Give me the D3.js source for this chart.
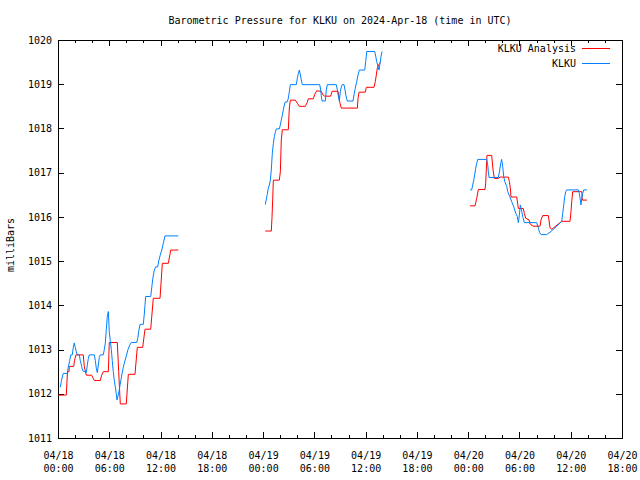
<!DOCTYPE html>
<html><head><meta charset="utf-8">
<script src="https://cdn.jsdelivr.net/npm/d3@7"></script>
<style>
body{margin:0;background:#fff;}
text{font-family:"DejaVu Sans Mono",monospace;font-size:10px;fill:#000;}
</style></head>
<body><svg id="c" width="640" height="480"></svg>
<script>
// Hours since 2024-04-18 00:00 UTC; null separates data gaps
const analysisHours = [0.04,0.97,1.11,1.29,1.32,1.84,1.93,2.1,2.96,3.08,3.31,3.94,4.25,4.95,5.11,5.3,5.89,6.0,6.94,7.1,7.29,7.99,8.23,9.01,9.28,9.91,10.18,10.85,11.15,11.94,12.21,12.91,13.19,14.08,
 null,
 24.26,24.96,25.04,25.13,25.2,25.9,26.02,26.13,26.25,26.95,27.07,27.19,27.77,28.0,28.24,28.94,29.17,29.29,29.88,30.04,30.27,30.81,31.0,31.21,31.91,32.07,32.77,33.0,33.15,35.03,35.11,35.23,35.96,36.08,36.98,37.13,37.25,37.37,37.53,37.76,
 null,
 48.22,48.8,49.0,49.19,49.97,50.05,50.2,50.75,50.91,51.06,51.53,51.73,52.7,52.82,52.93,53.01,53.68,53.87,54.45,54.57,54.73,55.12,55.24,55.62,56.41,56.52,56.72,57.38,57.58,57.78,58.95,59.92,60.03,60.12,60.23,61.29,61.36,61.9];
const analysisValues = [1011.97,1011.97,1012.5,1012.5,1012.62,1012.62,1012.75,1012.88,1012.88,1012.61,1012.42,1012.42,1012.3,1012.3,1012.42,1012.5,1012.5,1013.16,1013.16,1012.5,1011.77,1011.77,1012.44,1012.44,1013.05,1013.05,1013.46,1013.46,1014.16,1014.16,1014.95,1014.95,1015.25,1015.25,
 null,
 1015.68,1015.68,1015.97,1016.42,1016.83,1016.83,1017.02,1017.74,1017.97,1017.97,1018.46,1018.64,1018.64,1018.57,1018.5,1018.5,1018.59,1018.67,1018.67,1018.77,1018.85,1018.84,1018.76,1018.73,1018.73,1018.84,1018.84,1018.57,1018.46,1018.46,1018.68,1018.82,1018.82,1018.93,1018.93,1019.06,1019.21,1019.37,1019.44,1019.5,
 null,
 1016.25,1016.25,1016.42,1016.62,1016.62,1016.76,1017.39,1017.39,1017.06,1016.87,1016.87,1016.9,1016.9,1016.8,1016.65,1016.45,1016.45,1016.19,1016.19,1016.08,1015.97,1015.93,1015.84,1015.79,1015.79,1015.93,1016.03,1016.03,1015.75,1015.72,1015.9,1015.9,1016.12,1016.35,1016.57,1016.57,1016.38,1016.38];

const obsHours = [0.27,0.39,0.5,0.62,1.09,1.2,1.37,1.49,1.67,1.79,1.9,2.02,2.14,2.26,2.49,2.61,2.77,2.89,3.31,3.43,3.55,3.66,4.25,4.37,4.48,4.6,4.72,4.83,4.95,5.3,5.42,5.54,5.65,5.77,5.89,6.0,6.12,6.24,6.35,6.47,6.59,6.71,6.82,6.9,7.02,7.14,7.26,7.37,7.49,7.64,7.8,7.99,8.19,8.39,8.58,9.21,9.33,9.44,9.6,9.98,10.1,10.18,10.26,10.85,10.97,11.09,11.27,11.43,11.67,11.78,11.94,12.14,12.32,12.52,14.08,
 null,
 24.26,24.38,24.49,24.61,24.73,24.85,24.96,25.08,25.2,25.31,25.43,25.55,25.9,26.02,26.13,26.25,26.37,26.48,26.6,26.83,26.95,27.07,27.19,27.89,28.0,28.12,28.24,28.36,28.47,28.59,30.63,30.74,30.81,30.9,31.28,31.4,31.52,32.57,32.69,32.8,32.92,33.04,33.15,33.27,33.47,33.59,33.7,33.86,34.52,34.64,34.79,34.96,35.11,35.26,35.89,36.01,36.13,37.06,37.18,37.3,37.45,37.57,37.68,37.8,37.92,
 null,
 48.22,48.41,48.53,48.65,48.76,48.88,49.0,49.12,50.17,50.29,50.36,50.44,51.14,51.53,51.69,51.81,51.92,52.04,52.16,52.28,52.51,52.63,52.86,53.1,53.33,53.57,53.75,53.87,53.99,54.1,54.27,54.38,54.57,56.02,56.14,56.26,56.37,56.52,57.19,57.69,58.36,58.95,59.06,59.18,59.3,59.41,59.53,60.89,61.01,61.13,61.2,61.29,61.4,61.52,61.9];
const obsValues = [1012.15,1012.28,1012.38,1012.46,1012.46,1012.6,1012.75,1012.88,1012.88,1013.05,1013.15,1013.05,1012.95,1012.88,1012.88,1012.75,1012.62,1012.52,1012.48,1012.65,1012.8,1012.88,1012.88,1012.75,1012.58,1012.48,1012.65,1012.82,1012.88,1012.88,1013.0,1013.15,1013.45,1013.75,1013.86,1013.4,1013.2,1013.0,1012.75,1012.5,1012.3,1012.15,1012.0,1011.86,1011.95,1012.05,1012.2,1012.32,1012.45,1012.6,1012.72,1012.85,1013.0,1013.1,1013.16,1013.16,1013.25,1013.4,1013.57,1013.57,1013.8,1014.0,1014.2,1014.2,1014.4,1014.6,1014.8,1014.87,1014.87,1015.0,1015.12,1015.25,1015.4,1015.57,1015.57,
 null,
 1016.28,1016.4,1016.51,1016.65,1016.72,1016.83,1017.06,1017.44,1017.66,1017.81,1017.91,1017.99,1017.99,1018.08,1018.19,1018.3,1018.42,1018.53,1018.6,1018.6,1018.68,1018.83,1018.99,1018.99,1019.13,1019.24,1019.32,1019.21,1019.1,1018.99,1018.99,1018.87,1018.74,1018.62,1018.62,1018.87,1018.99,1018.99,1018.87,1018.74,1018.62,1018.83,1018.94,1018.99,1018.99,1018.87,1018.74,1018.62,1018.62,1018.76,1018.91,1019.06,1019.21,1019.32,1019.32,1019.51,1019.74,1019.74,1019.63,1019.51,1019.4,1019.32,1019.47,1019.63,1019.74,
 null,
 1016.61,1016.61,1016.72,1016.83,1016.95,1017.1,1017.21,1017.3,1017.3,1017.17,1017.02,1016.89,1016.89,1016.89,1017.06,1017.21,1017.3,1017.14,1016.91,1016.8,1016.69,1016.57,1016.46,1016.34,1016.23,1016.08,1016.01,1015.87,1016.04,1016.27,1016.12,1016.01,1015.87,1015.87,1015.79,1015.71,1015.64,1015.6,1015.6,1015.67,1015.79,1015.9,1016.08,1016.27,1016.46,1016.57,1016.61,1016.61,1016.53,1016.38,1016.27,1016.42,1016.53,1016.61,1016.61];

const seriesNames = ["KLKU Analysis","KLKU"];
const seriesColors = ["#ff0000","#0080ff"];
const yTickValues = [1011,1012,1013,1014,1015,1016,1017,1018,1019,1020];
const chartTitle = "Barometric Pressure for KLKU on 2024-Apr-18 (time in UTC)";
const yLabel = "milliBars";

const t0 = Date.UTC(2024,3,18,0,0);
const toDate = h => new Date(t0 + h*3600e3);

const svg = d3.select("#c");
const L=58, R=622, T=40, B=438;
const x = d3.scaleUtc().domain([toDate(0), toDate(66)]).range([L,R]);
const y = d3.scaleLinear().domain([1011,1020]).range([B,T]);

// title
svg.append("text").attr("x",(L+R)/2).attr("y",24).attr("text-anchor","middle").text(chartTitle);
svg.append("text").attr("transform","translate(14,245) rotate(-90)").attr("text-anchor","middle").text(yLabel);

const fmt1 = d3.utcFormat("%m/%d"), fmt2 = d3.utcFormat("%H:%M");

// minor x ticks
svg.append("g").attr("transform",`translate(0,${B})`)
  .call(d3.axisBottom(x).ticks(d3.utcHour.every(2)).tickSizeInner(-3).tickSizeOuter(0).tickFormat(""))
  .call(g=>g.select(".domain").remove());
svg.append("g").attr("transform",`translate(0,${T})`)
  .call(d3.axisTop(x).ticks(d3.utcHour.every(2)).tickSizeInner(-3).tickSizeOuter(0).tickFormat(""))
  .call(g=>g.select(".domain").remove());
// major x ticks
const xb = svg.append("g").attr("transform",`translate(0,${B})`)
  .call(d3.axisBottom(x).ticks(d3.utcHour.every(6)).tickSizeInner(-6).tickSizeOuter(0).tickFormat(""));
xb.select(".domain").remove();
xb.selectAll(".tick").append("text").attr("fill","#000").attr("text-anchor","middle")
  .each(function(d){
    const s=d3.select(this);
    s.append("tspan").attr("x",0).attr("y",21).text(fmt1(d));
    s.append("tspan").attr("x",0).attr("y",34).text(fmt2(d));
  });
svg.append("g").attr("transform",`translate(0,${T})`)
  .call(d3.axisTop(x).ticks(d3.utcHour.every(6)).tickSizeInner(-6).tickSizeOuter(0).tickFormat(""))
  .call(g=>g.select(".domain").remove());
// y ticks
const yl = svg.append("g").attr("transform",`translate(${L},0)`)
  .call(d3.axisLeft(y).tickValues(yTickValues).tickSizeInner(-6).tickSizeOuter(0).tickPadding(6).tickFormat(d3.format("d")));
yl.select(".domain").remove();
yl.selectAll("text").attr("font-family",null).attr("font-size",null);
svg.append("g").attr("transform",`translate(${R},0)`)
  .call(d3.axisRight(y).tickValues(yTickValues).tickSizeInner(-6).tickSizeOuter(0).tickFormat(""))
  .call(g=>g.select(".domain").remove());
svg.selectAll(".tick line").attr("stroke","#000").attr("shape-rendering","crispEdges");
svg.selectAll("g").attr("font-family",null).attr("font-size",null);

// frame
svg.append("rect").attr("x",L).attr("y",T).attr("width",R-L).attr("height",B-T)
  .attr("fill","none").attr("stroke","#000").attr("shape-rendering","crispEdges");

const mk = (hs,vs)=>hs.map((h,i)=>({h,v:vs[i]}));
const line = d3.line().defined(d=>d.h!=null && d.v!=null).x(d=>x(toDate(d.h))).y(d=>y(d.v));
[[analysisHours,analysisValues],[obsHours,obsValues]].forEach((s,i)=>{
  svg.append("path").datum(mk(s[0],s[1])).attr("d",line)
    .attr("fill","none").attr("stroke",seriesColors[i]).attr("stroke-width",1);
});

// legend
seriesNames.forEach((n,i)=>{
  const ly = 48 + i*15;
  svg.append("text").attr("x",576).attr("y",ly+4).attr("text-anchor","end").text(n);
  svg.append("line").attr("x1",582).attr("x2",610).attr("y1",ly+0.5).attr("y2",ly+0.5)
    .attr("stroke",seriesColors[i]).attr("stroke-width",1);
});
</script></body></html>
